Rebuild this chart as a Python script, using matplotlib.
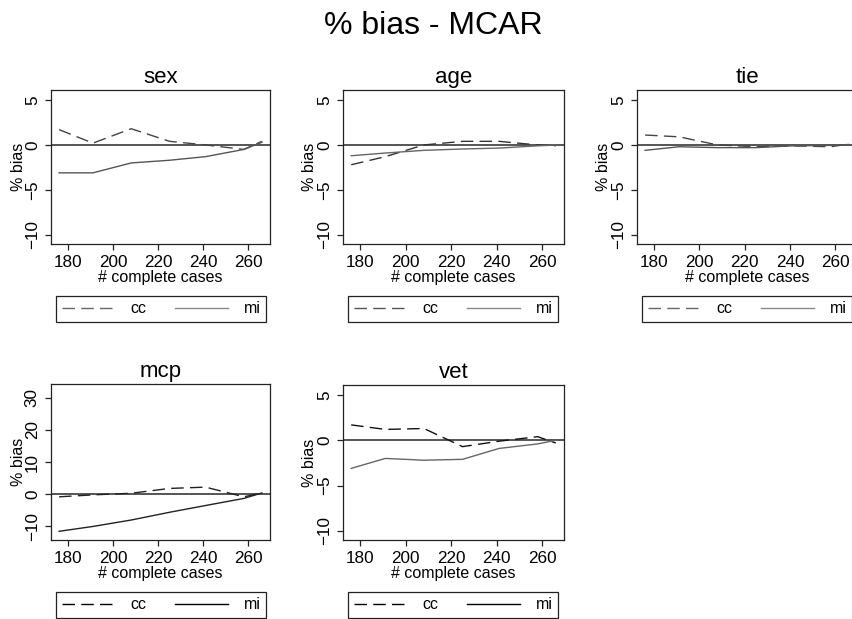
import matplotlib
matplotlib.use("Agg")
import matplotlib.pyplot as plt
from matplotlib.lines import Line2D

plt.rcParams['font.family'] = ['Liberation Sans', 'DejaVu Sans']

# number of complete cases for each scenario
n_cases = [176, 191, 208, 225, 241, 258, 266]

panels = ["sex", "age", "tie", "mcp", "vet"]

sex_cc = [1.7, 0.2, 1.8, 0.4, 0.0, -0.5, 0.4]
sex_mi = [-3.1, -3.1, -2.0, -1.7, -1.3, -0.5, 0.3]
age_cc = [-2.2, -1.3, 0.0, 0.4, 0.4, 0.0, -0.1]
age_mi = [-1.2, -0.9, -0.6, -0.45, -0.35, -0.1, 0.0]
tie_cc = [1.1, 0.9, 0.0, -0.2, -0.1, -0.2, 0.1]
tie_mi = [-0.6, -0.2, -0.3, -0.3, -0.1, -0.05, 0.05]
mcp_cc = [-0.8, -0.2, 0.3, 1.8, 2.2, -0.8, 0.4]
mcp_mi = [-11.5, -10.0, -8.0, -5.6, -3.5, -1.3, 0.4]
vet_cc = [1.7, 1.2, 1.3, -0.7, -0.1, 0.4, -0.3]
vet_mi = [-3.1, -2.0, -2.2, -2.1, -0.9, -0.4, 0.0]

cc_vals = {"sex": sex_cc, "age": age_cc, "tie": tie_cc, "mcp": mcp_cc, "vet": vet_cc}
mi_vals = {"sex": sex_mi, "age": age_mi, "tie": tie_mi, "mcp": mcp_mi, "vet": vet_mi}

W, H = 852, 619
fig = plt.figure(figsize=(W / 100, H / 100), dpi=100)

# axes boxes in pixels: left, top, width, height
boxes = {
    "sex": (51, 90, 219, 154),
    "age": (343, 90, 221, 154),
    "tie": (637, 90, 220, 154),
    "mcp": (51, 384, 219, 156),
    "vet": (343, 385, 221, 155),
}
# line colours (cc, mi) as they appear in the picture
colours = {
    "sex": ("#444444", "#555555"),
    "age": ("#333333", "#666666"),
    "tie": ("#444444", "#555555"),
    "mcp": ("#222222", "#222222"),
    "vet": ("#111111", "#666666"),
}
leg_colours = {
    "sex": ("#666666", "#888888"),
    "age": ("#555555", "#888888"),
    "tie": ("#666666", "#888888"),
    "mcp": ("#000000", "#000000"),
    "vet": ("#000000", "#000000"),
}

dash = (9, 4.5)

for name in panels:
    l, t, w, h = boxes[name]
    ax = fig.add_axes([l / W, 1 - (t + h) / H, w / W, h / H])
    c_cc, c_mi = colours[name]
    ax.axhline(0, color="#555555", lw=1.4, zorder=1)
    ax.plot(n_cases, cc_vals[name], color=c_cc, lw=1.0, dashes=dash, zorder=2)
    ax.plot(n_cases, mi_vals[name], color=c_mi, lw=1.0, zorder=2)

    ax.set_xlim(172.4, 269.6)
    ax.set_xticks([180, 200, 220, 240, 260])
    if name == "mcp":
        ax.set_ylim(-14.2, 34.2)
        ax.set_yticks([-10, 0, 10, 20, 30])
    else:
        ax.set_ylim(-11.0, 6.1)
        ax.set_yticks([-10, -5, 0, 5])

    for s in ax.spines.values():
        s.set_color("#222222")
        s.set_linewidth(0.9)
    ax.tick_params(length=4, width=0.9, color="#222222", labelsize=12.3, pad=4)
    ax.tick_params(axis="y", labelrotation=90, pad=4)
    for lab in ax.get_yticklabels():
        lab.set_va("center")

    ax.set_title(name, fontsize=16, pad=5)
    ax.set_xlabel("# complete cases", fontsize=11.5, va="center")
    ax.xaxis.set_label_coords(0.5, -33.5 / h)
    ax.set_ylabel("% bias", fontsize=11.5, va="center")
    ax.yaxis.set_label_coords(-33 / w, 0.5)

    lc_cc, lc_mi = leg_colours[name]
    handles = [Line2D([], [], color=lc_cc, lw=1.0, dashes=dash),
               Line2D([], [], color=lc_mi, lw=1.0)]
    leg = ax.legend(handles, ["cc", "mi"], ncol=2, mode="expand",
                    bbox_to_anchor=(5 / w, -78 / h, 210 / w, 28 / h),
                    loc="lower left", borderaxespad=0, fancybox=False,
                    edgecolor="#222222", fontsize=11.5, handlelength=3.3,
                    handletextpad=1.0, borderpad=0.35, framealpha=1)
    leg.get_frame().set_linewidth(0.9)

fig.suptitle("% bias - MCAR", fontsize=23, x=0.508, y=1 - 26 / H, va="center")

fig.savefig("out.png", dpi=100)
